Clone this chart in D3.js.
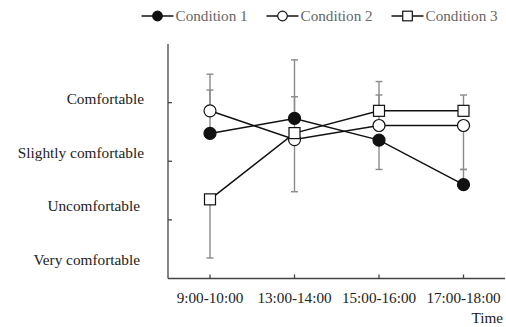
<!DOCTYPE html>
<html><head><meta charset="utf-8">
<script src="https://cdn.jsdelivr.net/npm/d3@7"></script>
<style>body{margin:0;background:#fff}svg{display:block}</style>
</head><body>
<script>
const times = ["9:00-10:00","13:00-14:00","15:00-16:00","17:00-18:00"];
const levelLabels = ["Comfortable","Slightly comfortable","Uncomfortable","Very comfortable"];
const seriesNames = ["Condition 1","Condition 2","Condition 3"];
const cond1 = [2.475, 2.73, 2.36, 1.60];
const cond2 = [2.86, 2.37, 2.61, 2.61];
const cond3 = [1.35, 2.48, 2.86, 2.86];
const cond1ErrUp = [0.74, 1.0, 0, 0.26];
const cond1ErrDown = [0, 0, 0.5, 0];
const cond2ErrUp = [0.625, 0.73, 0.75, 0];
const cond2ErrDown = [0, 0, 0, 0.75];
const cond3ErrUp = [0, 0, 0.27, 0.27];
const cond3ErrDown = [1.0, 1.0, 0, 0];
const yTicks = [1, 2, 3];

const W = 506, H = 327;
const svg = d3.select("body").append("svg").attr("width", W).attr("height", H);
const font = "'Liberation Serif','Times New Roman',serif";

const x = d3.scalePoint().domain(times).range([210, 463.5]);
const xAxisRange = [168, 505];
const y = d3.scaleLinear().domain([0, 4]).range([278.5, 44]);

const series = [
  {name: seriesNames[0], vals: cond1, up: cond1ErrUp, down: cond1ErrDown, shape: "circle", fill: "#111"},
  {name: seriesNames[1], vals: cond2, up: cond2ErrUp, down: cond2ErrDown, shape: "circle", fill: "#fff"},
  {name: seriesNames[2], vals: cond3, up: cond3ErrUp, down: cond3ErrDown, shape: "square", fill: "#fff"}
];

const axisColor = "#444";
svg.append("line").attr("x1", xAxisRange[0]).attr("x2", xAxisRange[0]).attr("y1", y(4)).attr("y2", y(0))
  .attr("stroke", axisColor).attr("stroke-width", 1.3);
svg.append("line").attr("x1", xAxisRange[0]).attr("x2", xAxisRange[1]).attr("y1", y(0)).attr("y2", y(0))
  .attr("stroke", axisColor).attr("stroke-width", 1.3);
svg.selectAll(".yt").data(yTicks).enter().append("line")
  .attr("x1", xAxisRange[0]).attr("x2", xAxisRange[0] + 4).attr("y1", d => y(d)).attr("y2", d => y(d))
  .attr("stroke", axisColor).attr("stroke-width", 1.3);
svg.selectAll(".xt").data(times).enter().append("line")
  .attr("x1", d => x(d)).attr("x2", d => x(d)).attr("y1", y(0)).attr("y2", y(0) - 4)
  .attr("stroke", axisColor).attr("stroke-width", 1.3);

svg.selectAll(".xl").data(times).enter().append("text")
  .attr("x", d => x(d)).attr("y", 303).attr("text-anchor", "middle")
  .attr("font-family", font).attr("font-size", 15.2).attr("fill", "#222").text(d => d);
svg.append("text").attr("x", 503).attr("y", 323).attr("text-anchor", "end")
  .attr("font-family", font).attr("font-size", 15.2).attr("fill", "#222").text("Time");

const labelY = d3.scalePoint().domain(levelLabels).range([104, 265]);
svg.selectAll(".yl").data(levelLabels).enter().append("text")
  .attr("x", (d, i) => i >= 2 ? 140 : 144).attr("y", d => labelY(d)).attr("text-anchor", "end")
  .attr("font-family", font).attr("font-size", 15.3).attr("fill", "#222").text(d => d);

const errColor = "#8a8a8a";
series.forEach(s => {
  times.forEach((t, i) => {
    const segs = [];
    if (s.up[i] > 0) segs.push(s.vals[i] + s.up[i]);
    if (s.down[i] > 0) segs.push(s.vals[i] - s.down[i]);
    segs.forEach(end => {
      svg.append("line").attr("x1", x(t)).attr("x2", x(t)).attr("y1", y(s.vals[i])).attr("y2", y(end))
        .attr("stroke", errColor).attr("stroke-width", 1.4);
      svg.append("line").attr("x1", x(t) - 3.5).attr("x2", x(t) + 3.5).attr("y1", y(end)).attr("y2", y(end))
        .attr("stroke", errColor).attr("stroke-width", 1.4);
    });
  });
});

const line = d3.line().x((d, i) => x(times[i])).y(d => y(d));
series.forEach(s => {
  svg.append("path").attr("d", line(s.vals)).attr("fill", "none").attr("stroke", "#111").attr("stroke-width", 1.5);
});

function marker(g, shape, cx, cy, fill, r) {
  if (shape === "circle") {
    g.append("circle").attr("cx", cx).attr("cy", cy).attr("r", r).attr("fill", fill)
      .attr("stroke", "#111").attr("stroke-width", 1.2);
  } else {
    g.append("rect").attr("x", cx - r).attr("y", cy - r).attr("width", 2 * r).attr("height", 2 * r)
      .attr("fill", fill).attr("stroke", "#111").attr("stroke-width", 1.2);
  }
}
series.forEach(s => {
  s.vals.forEach((v, i) => marker(svg, s.shape, x(times[i]), y(v), s.fill, s.shape === "circle" ? 6 : 5.5));
});

const legendX = [141.5, 266.5, 391.5];
const legendY = 16;
series.forEach((s, i) => {
  const lx = legendX[i];
  svg.append("line").attr("x1", lx).attr("x2", lx + 32).attr("y1", legendY).attr("y2", legendY)
    .attr("stroke", "#111").attr("stroke-width", 1.3);
  marker(svg, s.shape, lx + 16, legendY, s.fill, 4.8);
  svg.append("text").attr("x", lx + 34).attr("y", legendY + 5).attr("font-family", font)
    .attr("font-size", 15.2).attr("fill", "#666").text(s.name);
});
</script>
</body></html>
